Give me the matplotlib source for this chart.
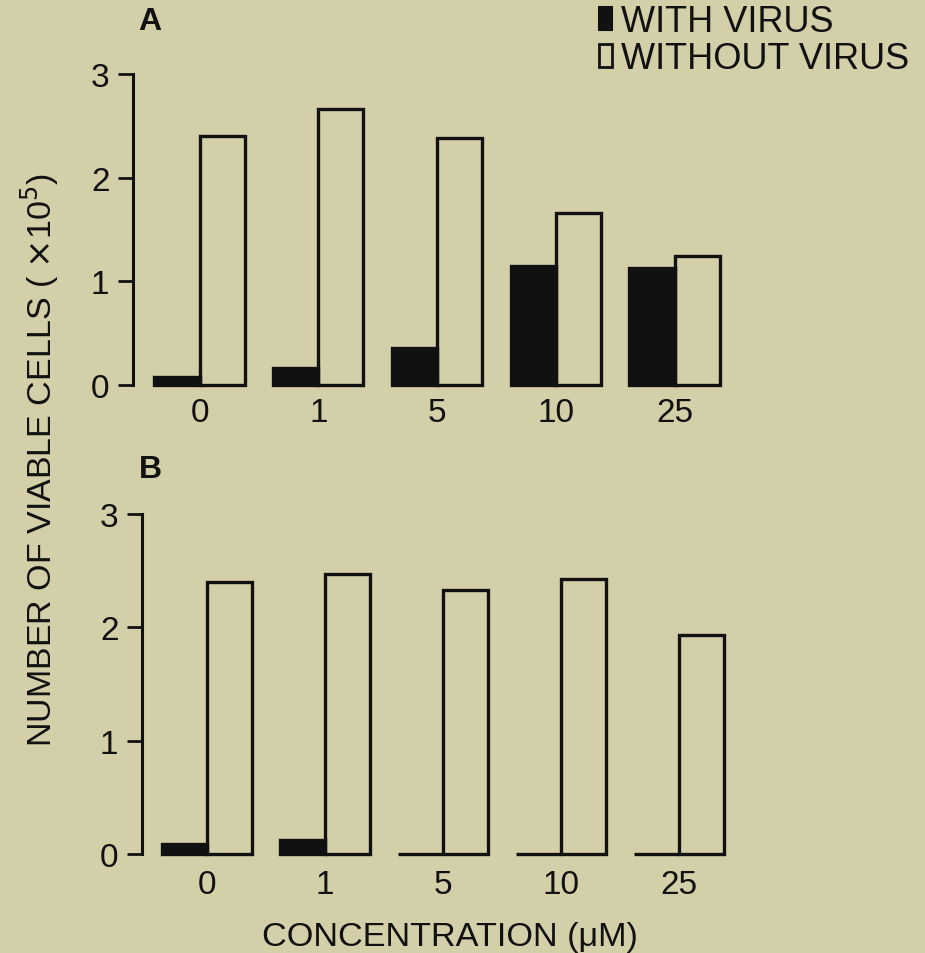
import matplotlib
matplotlib.use("Agg")
import matplotlib.pyplot as plt
from matplotlib.patches import Patch
import numpy as np

plt.rcParams['font.family'] = ['Liberation Sans', 'DejaVu Sans']

categories = ['0', '1', '5', '10', '25']
a_with_virus = [0.08, 0.16, 0.36, 1.15, 1.13]
a_without_virus = [2.40, 2.66, 2.38, 1.66, 1.24]
b_with_virus = [0.09, 0.12, 0.0, 0.0, 0.0]
b_without_virus = [2.40, 2.47, 2.33, 2.43, 1.93]
y_ticks = [0, 1, 2, 3]

BG = '#d3cfa9'
W, H = 925, 954
fig = plt.figure(figsize=(W / 100, H / 100), dpi=100, facecolor=BG)

def px(x0, y0, x1, y1):
    return [x0 / W, 1 - y1 / H, (x1 - x0) / W, (y1 - y0) / H]

def panel(rect, with_v, without_v, xlim, label_pad):
    ax = fig.add_axes(rect)
    ax.set_facecolor('none')
    x = np.arange(len(categories))
    w = 0.38
    ax.bar(x - w / 2, with_v, width=w, color='#111111', edgecolor='#111111',
           linewidth=2.4, clip_on=False)
    ax.bar(x + w / 2, without_v, width=w, facecolor='none', edgecolor='#111111',
           linewidth=2.4, clip_on=False)
    ax.set_xlim(*xlim)
    ax.set_ylim(0, 3)
    for s in ['top', 'right', 'bottom']:
        ax.spines[s].set_visible(False)
    ax.spines['left'].set_linewidth(2.2)
    ax.spines['left'].set_bounds(0, 3)
    ax.spines['left'].set_color('#111111')
    ax.set_yticks(y_ticks)
    ax.set_yticklabels([str(t) for t in y_ticks])
    ax.tick_params(axis='y', direction='out', length=11, width=2.0,
                   labelsize=24, pad=6, colors='#111111')
    ax.set_xticks(x)
    ax.set_xticklabels(categories)
    ax.tick_params(axis='x', length=0, labelsize=24, pad=label_pad, colors='#111111')
    return ax

# panel A: group spacing ~118.7 px, group 0 centre at ~200 px
axA = panel(px(133, 75, 734, 386), a_with_virus, a_without_virus, (-0.56, 4.5), 9)
# panel B: group spacing ~118 px, group 0 centre at ~207 px
axB = panel(px(142, 515, 738, 855), b_with_virus, b_without_virus, (-0.55, 4.5), 11)

fig.text(150 / W, 1 - 22 / H, 'A', fontsize=23, fontweight='bold', ha='center', va='center', color='#111111')
fig.text(150 / W, 1 - 470 / H, 'B', fontsize=23, fontweight='bold', ha='center', va='center', color='#111111')

fig.text(40 / W, 1 - 460 / H, r'NUMBER OF VIABLE CELLS ( $\times$10$^5$)', rotation=90,
         fontsize=24.5, ha='center', va='center', color='#111111')
fig.text(450 / W, 1 - 938 / H, 'CONCENTRATION (μM)', fontsize=24.7,
         ha='center', va='center', color='#111111')

handles = [Patch(facecolor='#111111', edgecolor='#111111', linewidth=1.5),
           Patch(facecolor='none', edgecolor='#111111', linewidth=2.0)]
fig.legend(handles, ['WITH VIRUS', 'WITHOUT VIRUS'], loc='upper left',
           bbox_to_anchor=(599 / W, 1 - 5 / H), frameon=False, fontsize=26,
           handlelength=0.35, handleheight=0.6, handletextpad=0.25,
           labelspacing=0.05, borderpad=0, borderaxespad=0,
           labelcolor='#111111')

fig.savefig('out.png', dpi=100, facecolor=BG)
